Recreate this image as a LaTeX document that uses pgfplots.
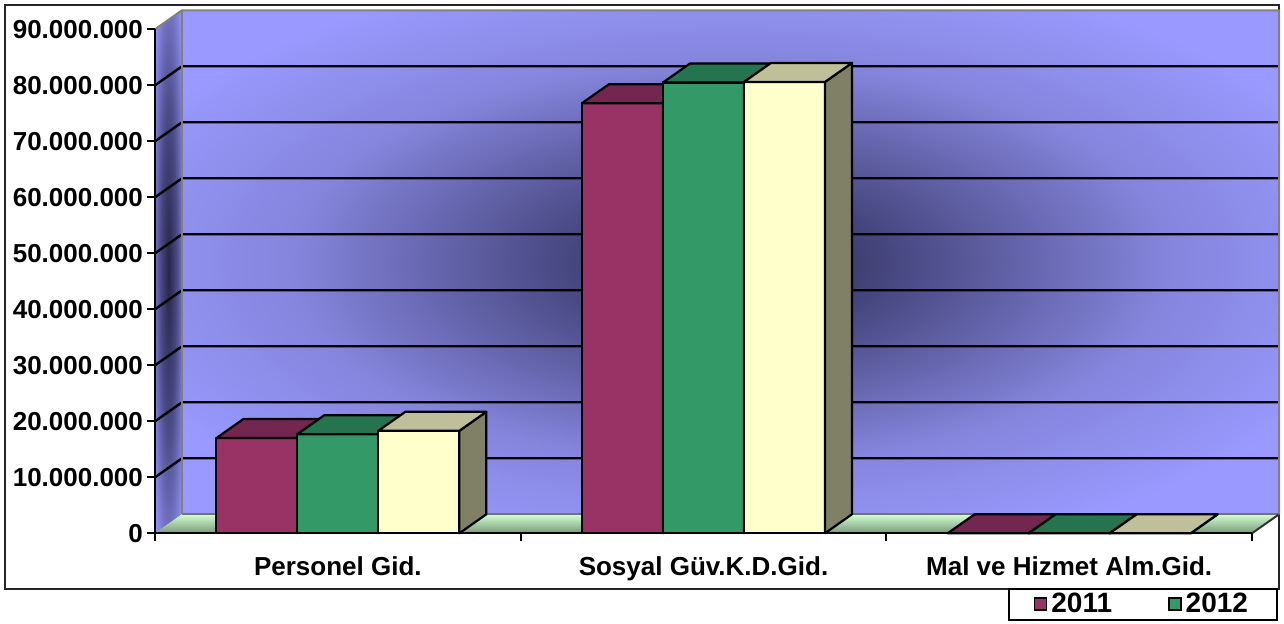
\documentclass[border=0pt]{standalone}
\usepackage{fontspec}
\setmainfont{Liberation Sans}
\usepackage{pgfplots}
\pgfplotsset{compat=1.18}

\definecolor{wall}{HTML}{9999FF}
\definecolor{wallL}{HTML}{8585DD}
\definecolor{wallM}{HTML}{4A4A85}
\definecolor{wallD}{HTML}{262648}
\definecolor{bgblue}{HTML}{9CCCFC}
\definecolor{floorB}{HTML}{D0FFD0}
\definecolor{floorF}{HTML}{7A987A}
\definecolor{cA}{HTML}{993366}
\definecolor{cAt}{HTML}{732650}
\definecolor{cAs}{HTML}{4D1A33}
\definecolor{cB}{HTML}{339966}
\definecolor{cBt}{HTML}{267350}
\definecolor{cBs}{HTML}{1A4D33}
\definecolor{cC}{HTML}{FFFFCC}
\definecolor{cCt}{HTML}{BFBF99}
\definecolor{cCs}{HTML}{808066}

\pgfdeclareradialshading{backwall}{\pgfpoint{0bp}{0bp}}{color(0bp)=(wallD); color(8bp)=(wallM); color(20bp)=(wallL); color(30bp)=(wall); color(50bp)=(wall)}
\pgfdeclareradialshading{sidewall}{\pgfpoint{0bp}{0bp}}{color(0bp)=(wallD); color(15bp)=(wallM); color(35bp)=(wall); color(50bp)=(wall)}

\pgfdeclareplotmark{nothing}{}

% 3D bar drawn at the data point; #1 = shift (pt), #2 front, #3 top, #4 side colour
\newcommand\barfaces[4]{%
  \pgfmathsetmacro\fH{\pgfplotspointmetatransformed*0.252}%
  \pgfmathsetmacro\fL{#1-20.25}%
  \pgfmathsetmacro\fR{#1+20.25}%
  \pgfmathsetmacro\fRd{\fR+13.5}%
  \pgfmathsetmacro\fLd{\fL+13.5}%
  \pgfmathsetmacro\fHd{9.5-\fH}%
  \draw[fill=#2, line width=1.1pt, line join=round] (\fL pt,-\fH pt) rectangle (\fR pt,0pt);
  \draw[fill=#4, line width=1.1pt, line join=round] (\fR pt,0pt) -- (\fR pt,-\fH pt) -- (\fRd pt,\fHd pt) -- (\fRd pt,9.5pt) -- cycle;
  \draw[fill=#3, line width=1.1pt, line join=round] (\fL pt,0pt) -- (\fR pt,0pt) -- (\fRd pt,9.5pt) -- (\fLd pt,9.5pt) -- cycle;
}

\begin{document}
\begin{tikzpicture}
\path[use as bounding box] (-77.5pt,-45.35pt) rectangle (564.5pt,266.65pt);
% chart area
\shade[top color=white, middle color=bgblue, bottom color=white] (-75pt,-27.85pt) rectangle (562pt,264.15pt);
\draw[line width=1pt, black!85] (-75pt,-27.85pt) rectangle (562pt,264.15pt);
% side wall
\shade[shading=sidewall] (0pt,0pt) -- (13.5pt,9.5pt) -- (13.5pt,261.5pt) -- (0pt,252pt) -- cycle;
% back wall
\shade[shading=backwall] (13.5pt,9.5pt) rectangle (562pt,261.5pt);
% floor
\shade[top color=floorB, bottom color=floorF] (0pt,0pt) -- (548.5pt,0pt) -- (562pt,9.5pt) -- (13.5pt,9.5pt) -- cycle;
\draw[line width=1pt, black!55] (13.5pt,9.5pt) -- (562pt,9.5pt);
\draw[line width=1pt, black!80] (548.5pt,0pt) -- (562pt,9.5pt);
% gridlines
\foreach \k in {1,...,8}{
  \draw[line width=1.2pt, black] (0pt,{28*\k*1pt}) -- (13.5pt,{28*\k*1pt+9.5pt}) -- (562pt,{28*\k*1pt+9.5pt});
}
% wall borders
\draw[line width=1pt, black!50] (0pt,252pt) -- (13.5pt,261.5pt) -- (562pt,261.5pt) -- (562pt,9.5pt);
\draw[line width=1pt, black!50] (13.5pt,9.5pt) -- (13.5pt,261.5pt);

\begin{axis}[
  at={(0pt,0pt)}, anchor=south west,
  scale only axis, width=548.5pt, height=252pt,
  xmin=0, xmax=3, ymin=0, ymax=90,
  clip=false,
  axis x line*=bottom, axis y line*=left,
  axis line style={line width=1.2pt, black},
  tick align=outside,
  major tick length=4pt, minor tick length=4pt,
  every tick/.style={black, line width=1pt},
  xtick={0.5,1.5,2.5},
  xticklabels={Personel Gid., Sosyal Güv.K.D.Gid., Mal ve Hizmet Alm.Gid.},
  major x tick style={draw=none},
  minor xtick={0,1,2,3},
  ytick={0,10,20,30,40,50,60,70,80,90},
  yticklabels={0,10.000.000,20.000.000,30.000.000,40.000.000,50.000.000,60.000.000,70.000.000,80.000.000,90.000.000},
  xticklabel style={font=\fontsize{13}{15}\selectfont\bfseries, yshift=-4pt},
  yticklabel style={font=\fontsize{13}{15}\selectfont\bfseries, xshift=1.5pt},
  point meta min=0, point meta max=90,
  legend style={at={(axis description cs:1.0237,-0.1085)}, anchor=north east,
    draw=black, line width=1pt, fill=white,
    inner xsep=12.5pt, inner ysep=0.5pt,
    font=\fontsize{14}{15}\selectfont\bfseries,
    nodes={inner ysep=1.5pt},
    /tikz/every even column/.append style={column sep=26pt}},
  legend columns=2,
]
% series 2011
\addplot[only marks, mark=nothing, scatter, point meta=y,
  scatter/@pre marker code/.code={\barfaces{-40.5}{cA}{cAt}{cAs}},
  scatter/@post marker code/.code={},
  legend image code/.code={\draw[fill=cA, draw=black, line width=0.8pt] (0pt,-3pt) rectangle (6pt,3pt);}]
  coordinates {(0.5,17.0) (1.5,76.8) (2.5,0)};
\addlegendentry{2011}
% series 2012
\addplot[only marks, mark=nothing, scatter, point meta=y,
  scatter/@pre marker code/.code={\barfaces{0}{cB}{cBt}{cBs}},
  scatter/@post marker code/.code={},
  legend image code/.code={\draw[fill=cB, draw=black, line width=0.8pt] (0pt,-3pt) rectangle (6pt,3pt);}]
  coordinates {(0.5,17.7) (1.5,80.5) (2.5,0)};
\addlegendentry{2012}
% third series
\addplot[forget plot, only marks, mark=nothing, scatter, point meta=y,
  scatter/@pre marker code/.code={\barfaces{40.5}{cC}{cCt}{cCs}},
  scatter/@post marker code/.code={}]
  coordinates {(0.5,18.3) (1.5,80.6) (2.5,0)};
\end{axis}
\end{tikzpicture}
\end{document}
